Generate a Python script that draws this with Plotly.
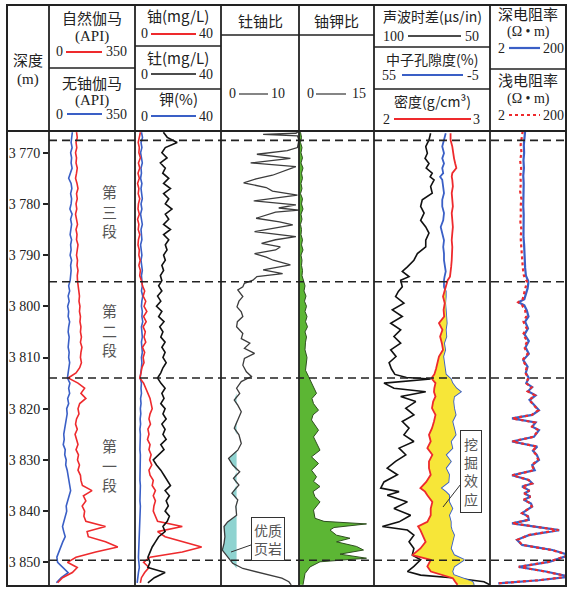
import plotly.graph_objects as go
import math

W, H = 569, 590
def PX(x): return x / W
def PY(y): return 1 - y / H

# ---------------- data ----------------
depth_1m = list(range(3766, 3855))

gr = [112, 115, 110, 113, 108, 112, 110, 115, 112, 108,
      114, 118, 112, 115, 110, 113, 108, 112, 116, 110,
      114, 112, 118, 115, 112, 116, 114, 118, 115, 116,
      118, 120, 124, 122, 126, 124, 128, 126, 130, 128,
      132, 128, 134, 130, 128, 132, 125, 110, 78, 118,
      145, 130, 150, 125, 118, 122, 112, 108, 115, 106,
      112, 118, 110, 120, 116, 124, 118, 128, 130, 136,
      175, 140, 150, 135, 145, 142, 150, 230, 155, 160,
      230, 280, 190, 110, 75, 115, 95, 55, 35]

kthgr = [95, 92, 90, 94, 88, 92, 90, 94, 86, 80,
         90, 93, 88, 92, 90, 85, 94, 88, 92, 90,
         86, 92, 88, 90, 86, 92, 88, 90, 88, 86,
         80, 84, 78, 82, 76, 80, 78, 84, 80, 78,
         82, 80, 78, 82, 80, 84, 80, 76, 75, 85,
         80, 84, 76, 80, 72, 74, 70, 66, 64, 60,
         62, 58, 66, 64, 70, 68, 74, 78, 80, 85,
         88, 82, 76, 70, 72, 66, 60, 55, 60, 66,
         56, 48, 40, 32, 35, 55, 78, 50, 30]

uran = [2.5, 2.0, 1.5, 2.0, 1.8, 2.5, 1.6, 2.2, 1.4, 2.0,
        1.2, 1.8, 1.5, 2.2, 1.6, 1.4, 2.0, 1.2, 1.8, 1.5,
        2.2, 1.6, 1.4, 2.0, 1.8, 2.4, 1.8, 2.5, 2.2, 3.0,
        3.5, 4.5, 3.8, 5.0, 4.2, 5.5, 4.0, 5.2, 3.8, 4.8,
        4.2, 5.0, 3.5, 4.5, 3.8, 4.2, 3.2, 2.8, 2.2, 4.0,
        5.0, 6.0, 7.0, 7.5, 8.0, 7.0, 6.5, 7.2, 6.0, 6.5,
        5.8, 7.0, 6.5, 7.5, 6.8, 7.8, 6.5, 7.0, 8.5, 8.0,
        9.5, 8.5, 9.5, 8.8, 8.5, 9.5, 10.5, 22, 10.5, 14,
        22, 31, 22, 7, 4, 6.5, 4.5, 3, 2.5]

potas = [3.0, 3.5, 2.8, 3.2, 2.6, 3.0, 3.4, 2.8, 3.0, 2.6,
         3.2, 2.8, 3.0, 3.4, 2.8, 3.2, 2.6, 3.0, 3.4, 2.8,
         3.0, 3.2, 2.6, 3.0, 3.2, 2.8, 3.0, 3.4, 3.0, 3.2,
         3.4, 3.0, 3.6, 3.2, 3.0, 3.4, 3.2, 3.6, 3.0, 3.2,
         3.4, 3.0, 3.2, 3.4, 3.0, 3.2, 3.0, 2.6, 2.4, 3.0,
         2.8, 3.0, 2.6, 2.8, 2.5, 2.7, 2.4, 2.6, 2.3, 2.5,
         2.4, 2.6, 2.3, 2.5, 2.4, 2.6, 2.2, 2.4, 2.3, 2.5,
         2.4, 2.6, 2.3, 2.5, 2.4, 2.3, 2.2, 2.0, 2.2, 2.0,
         1.9, 1.8, 1.8, 1.6, 1.8, 2.0, 1.6, 1.2, 1.0]

thor = [13.2, 15.0, 19.6, 14.1, 12.5, 14.9, 11.8, 14.1, 12.9, 15.7,
        13.3, 16.5, 13.3, 15.7, 14.1, 17.2, 14.1, 15.7, 13.3, 16.5,
        13.3, 15.7, 14.1, 14.9, 13.3, 14.1, 12.5, 13.3, 11.8, 12.5,
        11.0, 12.5, 10.5, 12.0, 10.0, 12.5, 11.0, 13.5, 11.5, 13.0,
        12.0, 14.0, 12.5, 14.0, 13.0, 14.5, 13.0, 12.0, 10.5, 12.0,
        14.0, 12.5, 13.5, 12.0, 14.0, 13.0, 14.5, 12.5, 14.0, 13.0,
        14.5, 12.0, 13.5, 11.0, 8.5, 10.0, 12.0, 13.5, 15.0, 16.5,
        14.0, 16.0, 14.5, 15.5, 14.0, 16.0, 15.0, 13.0, 14.0, 11.0,
        9.5, 8.0, 7.0, 6.0, 7.0, 6.0, 14.0, 9.0, 6.0]

thu_depth = [3765.8, 3766.2, 3766.4, 3766.7, 3767.5, 3769.0, 3769.6, 3770.3, 3771.1, 3772.0,
             3772.7, 3773.6, 3774.4, 3775.1, 3775.9, 3776.8, 3777.5, 3778.3, 3779.4, 3780.2,
             3780.8, 3781.2, 3781.6, 3782.8, 3783.5, 3784.1, 3785.4, 3786.4, 3787.0, 3787.7,
             3788.4, 3789.0, 3789.7, 3790.4, 3791.0, 3791.9, 3792.9, 3793.6, 3794.2, 3794.9,
             3795.5, 3796.2, 3796.8, 3798.1, 3799.0, 3800.1, 3801.1, 3802.0, 3803.0, 3804.0,
             3805.3, 3806.3, 3807.2, 3808.2, 3809.2, 3810.2, 3811.5, 3812.8, 3813.7, 3814.7,
             3816.0, 3817.0, 3818.3, 3819.3, 3820.6, 3822.2, 3823.8, 3825.1, 3826.8, 3828.1,
             3829.7, 3831.0, 3832.3, 3833.6, 3834.9, 3836.5, 3837.8, 3839.1, 3840.8, 3842.1,
             3843.0, 3845.0, 3846.3, 3847.6, 3848.9, 3850.2, 3851.2, 3852.2, 3853.1, 3853.8,
             3854.4]
thu = [10.0, 9.6, 5.4, 9.8, 10.0, 9.8, 8.5, 4.6, 8.9, 3.8,
       9.6, 8.0, 6.6, 4.5, 2.9, 5.8, 6.6, 9.8, 4.2, 9.6,
       7.4, 10.0, 7.0, 4.5, 7.5, 9.2, 4.3, 9.6, 7.0, 5.2,
       7.6, 7.0, 4.3, 5.8, 6.7, 8.9, 5.4, 7.9, 4.6, 4.1,
       3.0, 2.8, 2.15, 2.8, 2.3, 2.05, 2.6, 2.8, 2.1, 2.0,
       2.8, 2.6, 3.7, 3.0, 4.3, 3.0, 2.8, 3.25, 3.9, 2.6,
       2.0, 2.4, 1.7, 2.15, 2.6, 2.15, 1.7, 2.3, 2.6, 2.15,
       0.97, 1.5, 2.4, 1.6, 2.3, 1.4, 2.15, 1.9, 2.0, 0.85,
       0.39, 0.5, 0.39, 0.17, 0.85, 1.5, 2.8, 5.4, 7.8, 8.7,
       9.0]
thu_cutoff = 2.0

uk_depth = [3766, 3767, 3768, 3769, 3770, 3771, 3772, 3773, 3774, 3775,
            3776, 3777, 3778, 3779, 3780, 3781, 3782, 3783, 3784, 3785,
            3786, 3787, 3788, 3789, 3790, 3791, 3792, 3793, 3794, 3795,
            3796, 3797, 3798, 3799, 3800, 3801, 3802, 3803, 3804, 3805,
            3806, 3807, 3808.5, 3810.0, 3811.1, 3812.5, 3813.7, 3815.0, 3817.0, 3818.0,
            3819.0, 3820.3, 3821.2, 3822.2, 3823.3, 3824.2, 3825.5, 3826.8, 3828.1, 3829.4,
            3830.7, 3832.0, 3833.3, 3834.2, 3835.2, 3836.2, 3837.2, 3838.2, 3839.8, 3841.4,
            3842.0, 3842.5, 3843.2, 3843.7, 3844.7, 3845.3, 3846.0, 3846.9, 3847.6, 3848.4,
            3849.2, 3849.9, 3850.9, 3852.2, 3853.5, 3854.4]
uk = [0.3, 0.5, 0.3, 0.6, 0.4, 0.7, 0.4, 0.8, 0.5, 0.7,
      0.4, 0.6, 0.3, 0.7, 0.5, 0.8, 0.4, 0.6, 0.3, 0.5,
      0.4, 0.7, 0.5, 0.8, 0.4, 0.6, 0.5, 0.7, 0.6, 0.9,
      1.2, 1.0, 1.4, 1.1, 1.5, 1.2, 1.6, 1.3, 1.7, 1.2,
      1.5, 1.3, 1.2, 1.6, 1.5, 1.3, 1.9, 2.5, 3.5, 2.6,
      2.9, 3.9, 2.8, 2.5, 3.2, 3.9, 2.9, 3.6, 4.2, 2.5,
      3.9, 2.5, 3.5, 2.9, 4.2, 2.8, 3.2, 4.2, 2.9, 3.2,
      5.0, 13.5, 7.0, 6.2, 7.5, 10.2, 7.5, 11.5, 12.9, 8.2,
      13.5, 4.2, 2.2, 1.2, 0.9, 0.8]

t5_depth = [3766.2, 3767.5, 3768.8, 3770.1, 3771.1, 3772.1, 3773.0, 3774.0, 3774.7, 3775.3,
            3776.6, 3777.9, 3779.2, 3780.5, 3781.8, 3783.2, 3784.5, 3785.7, 3787.1, 3788.4,
            3789.7, 3791.0, 3792.3, 3793.2, 3794.2, 3794.9, 3796.2, 3797.1, 3798.1, 3799.4,
            3800.7, 3802.0, 3803.3, 3804.6, 3805.9, 3807.2, 3808.5, 3809.8, 3811.0, 3812.2,
            3813.3, 3813.9, 3814.2, 3815.0, 3816.0, 3816.7, 3817.6, 3818.6, 3819.9, 3821.2,
            3822.5, 3823.8, 3825.1, 3826.4, 3827.7, 3829.0, 3830.3, 3831.6, 3832.9, 3834.3,
            3835.5, 3836.2, 3836.9, 3838.2, 3839.5, 3840.8, 3842.1, 3843.0, 3843.7, 3844.7,
            3846.0, 3847.3, 3848.6, 3849.5, 3850.8, 3851.8, 3852.5, 3853.1, 3853.8, 3854.4]
ac = [75.6, 76.3, 77.7, 77.0, 78.0, 76.3, 77.5, 74.9, 75.8, 74.1,
      75.6, 74.9, 79.2, 79.9, 78.4, 79.9, 77.7, 76.3, 77.7, 77.7,
      81.3, 82.8, 85.6, 87.8, 84.9, 88.5, 87.8, 89.5, 90.7, 87.1,
      92.1, 87.8, 92.8, 88.5, 91.4, 88.5, 92.8, 90.5, 93.5, 92.5,
      91.0, 86.0, 75.6, 95.7, 91.4, 77.7, 88.5, 82.0, 86.3, 82.8,
      87.8, 84.9, 87.1, 82.8, 89.2, 86.3, 90.7, 94.3, 89.9, 95.7,
      97.1, 89.2, 94.3, 85.6, 91.4, 84.2, 89.2, 96.4, 85.6, 82.8,
      84.9, 82.8, 83.5, 79.9, 82.8, 85.6, 79.9, 64.0, 52.6, 50.0]
cnl = [17.9, 18.8, 19.7, 18.8, 19.7, 18.8, 19.7, 19.2, 20.8, 19.7,
       19.2, 18.8, 19.7, 19.7, 18.8, 19.2, 20.5, 19.7, 18.8, 19.2,
       18.8, 18.8, 18.2, 17.9, 18.5, 18.8, 18.8, 17.9, 17.9, 18.2,
       17.9, 17.6, 17.4, 17.9, 17.6, 18.8, 18.2, 19.2, 18.8, 18.5,
       17.9, 16.2, 15.3, 14.5, 12.5, 10.2, 13.6, 14.0, 13.6, 12.8,
       14.5, 13.6, 12.8, 15.3, 14.5, 17.9, 15.3, 17.9, 16.2, 16.5,
       20.5, 18.0, 16.2, 16.2, 14.5, 16.2, 15.3, 15.3, 14.8, 13.6,
       14.5, 15.3, 13.6, 8.4, 13.6, 14.5, 13.8, 9.0, 4.1, 3.3]
den = [2.66, 2.66, 2.675, 2.68, 2.69, 2.70, 2.71, 2.675, 2.67, 2.675,
       2.68, 2.67, 2.675, 2.68, 2.67, 2.675, 2.68, 2.675, 2.67, 2.675,
       2.675, 2.67, 2.665, 2.66, 2.655, 2.635, 2.62, 2.61, 2.595, 2.61,
       2.60, 2.605, 2.56, 2.59, 2.57, 2.585, 2.595, 2.56, 2.55, 2.535,
       2.52, 2.50, 2.50, 2.53, 2.52, 2.517, 2.53, 2.51, 2.50, 2.53,
       2.517, 2.50, 2.474, 2.489, 2.46, 2.503, 2.474, 2.474, 2.489, 2.45,
       2.40, 2.44, 2.46, 2.503, 2.489, 2.489, 2.46, 2.38, 2.40, 2.42,
       2.445, 2.40, 2.33, 2.49, 2.46, 2.49, 2.60, 2.68, 2.70, 2.72]

res_depth = [3765.8, 3767.0, 3768.5, 3770.0, 3771.5, 3773.0, 3774.5, 3776.0, 3777.5, 3779.0,
             3780.5, 3782.0, 3783.5, 3785.0, 3786.5, 3788.0, 3789.5, 3791.0, 3792.5, 3794.0,
             3795.2, 3796.5, 3797.8, 3798.6, 3799.2, 3799.8, 3800.8, 3802.0, 3803.0, 3804.3,
             3805.5, 3806.8, 3808.0, 3809.3, 3810.5, 3811.8, 3813.0, 3814.0, 3815.0, 3815.8,
             3816.6, 3817.4, 3818.3, 3819.0, 3820.3, 3821.2, 3821.9, 3822.7, 3823.5, 3824.2,
             3825.5, 3826.4, 3827.4, 3828.2, 3829.0, 3830.0, 3831.0, 3832.0, 3833.0, 3833.9,
             3834.6, 3835.2, 3836.0, 3836.5, 3837.2, 3837.8, 3838.5, 3839.1, 3840.4, 3841.0,
             3841.7, 3842.4, 3843.7, 3844.7, 3845.6, 3846.6, 3847.6, 3848.6, 3849.9, 3850.9,
             3851.8, 3852.8, 3853.5, 3854.1]
res_deep = [16.8, 16.0, 15.5, 15.8, 15.2, 15.6, 15.0, 15.4, 15.2, 15.6,
            15.0, 15.4, 15.2, 15.6, 15.2, 15.8, 16.0, 16.4, 16.8, 17.6,
            20.6, 19.5, 17.2, 16.0, 11.2, 16.0, 18.6, 20.6, 16.8, 20.0,
            16.2, 21.0, 17.2, 21.0, 15.0, 19.5, 17.5, 21.0, 18.0, 25.8,
            20.0, 31.7, 22.0, 27.0, 38.9, 26.0, 7.6, 31.7, 26.0, 38.9,
            28.6, 7.6, 35.0, 27.0, 34.0, 38.9, 25.8, 30.0, 7.6, 21.0,
            26.0, 14.0, 22.0, 16.0, 23.3, 15.5, 24.0, 25.8, 14.0, 20.0,
            21.0, 7.6, 133, 21.0, 10.3, 14.0, 88, 246, 72, 11.4,
            58.6, 246, 38.9, 3.3]
res_shallow = [14.5, 13.6, 12.8, 13.5, 12.4, 13.2, 12.6, 13.0, 12.4, 13.4,
               12.8, 13.0, 12.6, 13.4, 12.8, 13.2, 13.6, 14.0, 14.6, 15.6,
               18.8, 17.0, 15.6, 14.5, 11.0, 14.0, 16.8, 18.0, 15.2, 18.4,
               14.8, 19.2, 16.0, 19.6, 14.2, 18.6, 17.0, 20.5, 17.5, 25.0,
               19.5, 30.5, 21.5, 26.5, 37.5, 25.0, 7.8, 30.5, 25.5, 38.0,
               27.5, 7.8, 34.0, 26.5, 33.0, 37.0, 25.0, 29.0, 7.8, 20.5,
               25.5, 14.0, 21.5, 16.0, 23.0, 15.5, 23.5, 25.0, 14.0, 19.5,
               20.5, 7.8, 128, 20.5, 10.5, 14.0, 85, 240, 70, 11.5,
               57, 240, 38, 3.3]

zone_tops = [3767.6, 3795.2, 3814.0, 3849.6]
depth_ticks = [3770, 3780, 3790, 3800, 3810, 3820, 3830, 3840, 3850]
depth_ticktext = ["3 770", "3 780", "3 790", "3 800", "3 810", "3 820", "3 830", "3 840", "3 850"]

# ---------------- style ----------------
RED = "#ee2a2d"
BLUE = "#3a5fc6"
BLACK = "#111111"
FONT = "Liberation Serif, 'Noto Sans CJK SC', serif"
CJK = "'Noto Sans CJK SC', Liberation Serif, serif"

tracks = {  # pixel extents
    "t1": (49, 135), "t2": (135, 221), "t3": (221, 299),
    "t4": (299, 374), "t5": (374, 490), "t6": (490, 566),
}
plot_top, plot_bot = 131, 585

fig = go.Figure()

def line(x, y, xa, color, width=1.6, dash=None):
    fig.add_trace(go.Scatter(x=x, y=y, xaxis=xa, yaxis="y", mode="lines",
                             line=dict(color=color, width=width, dash=dash),
                             hoverinfo="skip", showlegend=False))

# track 1
line(kthgr, depth_1m, "x", BLUE)
line(gr, depth_1m, "x", RED)
# track 2
line(potas, depth_1m, "x2", BLUE)
line(uran, depth_1m, "x2", RED)
line(thor, depth_1m, "x2", BLACK)
# track 3 : Th/U with cyan fill below cutoff
fig.add_trace(go.Scatter(x=[thu_cutoff] * len(thu), y=thu_depth, xaxis="x3", yaxis="y",
                         mode="lines", line=dict(width=0), hoverinfo="skip", showlegend=False))
fig.add_trace(go.Scatter(x=[min(v, thu_cutoff) for v in thu], y=thu_depth, xaxis="x3", yaxis="y",
                         mode="lines", line=dict(width=0), fill="tonextx",
                         fillcolor="#8fd3d0", hoverinfo="skip", showlegend=False))
line(thu, thu_depth, "x3", "#3c3c3c", width=1.3)
# track 4 : U/K green fill
fig.add_trace(go.Scatter(x=uk, y=uk_depth, xaxis="x4", yaxis="y", mode="lines",
                         line=dict(color="#2f4f20", width=1), fill="tozerox",
                         fillcolor="#5cb634", hoverinfo="skip", showlegend=False))
# track 5 : crossover fill on density axis
den_eq = [2 + (55 - c) / 60 for c in cnl]
fig.add_trace(go.Scatter(x=den, y=t5_depth, xaxis="x7", yaxis="y", mode="lines",
                         line=dict(width=0), hoverinfo="skip", showlegend=False))
fig.add_trace(go.Scatter(x=[max(a, b) for a, b in zip(den, den_eq)], y=t5_depth,
                         xaxis="x7", yaxis="y", mode="lines", line=dict(width=0),
                         fill="tonextx", fillcolor="#f7e638", hoverinfo="skip", showlegend=False))
line(ac, t5_depth, "x5", BLACK)
line(cnl, t5_depth, "x6", BLUE, width=1.8)
line(den, t5_depth, "x7", RED, width=1.8)
# track 6 : resistivity
line(res_deep, res_depth, "x8", BLUE, width=2.2)
line(res_shallow, res_depth, "x8", RED, width=2.2, dash="dot")

# ---------------- axes ----------------
def xa(dom, rng, typ="linear"):
    return dict(domain=[PX(dom[0]), PX(dom[1])], range=rng, type=typ, anchor="y",
                showticklabels=False, showgrid=False, zeroline=False, showline=False,
                ticks="", fixedrange=True, automargin=False)

fig.update_layout(
    xaxis=xa(tracks["t1"], [0, 350]),
    xaxis2=xa(tracks["t2"], [0, 40]),
    xaxis3=xa(tracks["t3"], [0, 10]),
    xaxis4=xa(tracks["t4"], [0, 15]),
    xaxis5=xa(tracks["t5"], [100, 50]),
    xaxis6=xa(tracks["t5"], [55, -5]),
    xaxis7=xa(tracks["t5"], [2, 3]),
    xaxis8=xa(tracks["t6"], [math.log10(2), math.log10(200)], "log"),
    yaxis=dict(domain=[PY(plot_bot), PY(plot_top)], range=[3854.43, 3765.76],
               anchor="x", showgrid=False, zeroline=False, showline=False,
               ticks="outside", ticklen=5, tickwidth=1.5, tickcolor="#222",
               tickvals=depth_ticks, ticktext=depth_ticktext,
               tickfont=dict(family=FONT, size=14, color="#222"),
               fixedrange=True, automargin=False),
)

# ---------------- frame & header ----------------
shapes = []
def pline(x0, y0, x1, y1, w=1.6, color="#222", dash=None):
    shapes.append(dict(type="line", xref="paper", yref="paper",
                       x0=PX(x0), y0=PY(y0), x1=PX(x1), y1=PY(y1),
                       line=dict(color=color, width=w, dash=dash)))

for d in zone_tops:
    shapes.append(dict(type="line", xref="paper", yref="y", x0=PX(49), x1=PX(566),
                       y0=d, y1=d, line=dict(color="#222", width=1.6, dash="8px,5px")))

shapes.append(dict(type="rect", xref="paper", yref="paper", x0=PX(7), y0=PY(586),
                   x1=PX(566), y1=PY(5), line=dict(color="#222", width=2)))
for xv in [49, 135, 221, 299, 374, 490]:
    pline(xv, 5, xv, 586, w=1.8)
pline(7, 131, 566, 131, w=2)
pline(49, 68, 135, 68)
pline(135, 46, 221, 46)
pline(135, 89, 221, 89)
pline(221, 35, 374, 35)
pline(374, 47, 490, 47)
pline(374, 89, 490, 89)
pline(490, 69, 566, 69)

# legend sample lines
pline(66, 52, 102, 52, w=2, color=RED)
pline(67, 114, 102, 114, w=2, color=BLUE)
pline(151, 34, 196, 34, w=2, color=RED)
pline(151, 74, 196, 74, w=1.6, color=BLACK)
pline(151, 116, 196, 116, w=2, color=BLUE)
pline(239, 94, 268, 94, w=1.2, color="#333")
pline(316, 94, 346, 94, w=1.2, color="#333")
pline(408, 36, 461, 36, w=1.6, color=BLACK)
pline(402, 75, 463, 75, w=2, color=BLUE)
pline(394, 119, 471, 119, w=2, color=RED)
pline(509, 48, 540, 48, w=2.2, color=BLUE)
pline(509, 115, 540, 115, w=2.2, color=RED, dash="dot")

annotations = []
def txt(x, y, s, size=15, color="#222", fam=CJK):
    annotations.append(dict(x=PX(x), y=PY(y), xref="paper", yref="paper", text=s,
                            showarrow=False, xanchor="center", yanchor="middle",
                            font=dict(family=fam, size=size, color=color)))

txt(28, 60, "深度")
txt(28, 80, "(m)", fam=FONT)
txt(92, 18, "自然伽马"); txt(92, 36, "(API)", fam=FONT)
txt(59, 52, "0", 14, fam=FONT); txt(116, 52, "350", 14, fam=FONT)
txt(92, 82, "无铀伽马"); txt(92, 100, "(API)", fam=FONT)
txt(59, 114, "0", 14, fam=FONT); txt(116, 114, "350", 14, fam=FONT)
txt(178, 15, "铀(mg/L)")
txt(144, 34, "0", 14, fam=FONT); txt(206, 34, "40", 14, fam=FONT)
txt(178, 57, "钍(mg/L)")
txt(144, 74, "0", 14, fam=FONT); txt(206, 74, "40", 14, fam=FONT)
txt(178, 98, "钾(%)")
txt(144, 116, "0", 14, fam=FONT); txt(206, 116, "40", 14, fam=FONT)
txt(260, 20, "钍铀比")
txt(232, 94, "0", 14, fam=FONT); txt(278, 94, "10", 14, fam=FONT)
txt(336, 20, "铀钾比")
txt(310, 94, "0", 14, fam=FONT); txt(359, 94, "15", 14, fam=FONT)
txt(432, 16, "声波时差(μs/in)", 14)
txt(393, 36, "100", 14, fam=FONT); txt(472, 36, "50", 14, fam=FONT)
txt(432, 59, "中子孔隙度(%)", 14)
txt(389, 75, "55", 14, fam=FONT); txt(473, 75, "-5", 14, fam=FONT)
txt(432, 101, "密度(g/cm³)", 14)
txt(386, 119, "2", 14, fam=FONT); txt(477, 119, "3", 14, fam=FONT)
txt(528, 14, "深电阻率"); txt(528, 32, "(Ω • m)", 14, fam=FONT)
txt(501, 48, "2", 14, fam=FONT); txt(553, 48, "200", 14, fam=FONT)
txt(528, 80, "浅电阻率"); txt(528, 99, "(Ω • m)", 14, fam=FONT)
txt(501, 115, "2", 14, fam=FONT); txt(553, 115, "200", 14, fam=FONT)

# zone labels
txt(109, 211, "第<br>三<br>段", 15, "#555")
txt(109, 330, "第<br>二<br>段", 15, "#555")
txt(109, 465, "第<br>一<br>段", 15, "#555")

# callouts
annotations.append(dict(x=PX(231), y=PY(552), xref="paper", yref="paper",
                        text="优质<br>页岩", showarrow=True, arrowhead=0, arrowwidth=1,
                        arrowcolor="#333", ax=37, ay=-13, bgcolor="white",
                        bordercolor="#333", borderwidth=1, borderpad=2,
                        font=dict(family=CJK, size=14, color="#555")))
annotations.append(dict(x=PX(443), y=PY(507), xref="paper", yref="paper",
                        text="挖<br>掘<br>效<br>应", showarrow=True, arrowhead=0, arrowwidth=1,
                        arrowcolor="#333", ax=28, ay=-36, bgcolor="white",
                        bordercolor="#333", borderwidth=1, borderpad=3,
                        font=dict(family=CJK, size=14, color="#555")))

fig.update_layout(width=W, height=H, margin=dict(l=0, r=0, t=0, b=0),
                  template="none", paper_bgcolor="white", plot_bgcolor="rgba(0,0,0,0)",
                  showlegend=False, shapes=shapes, annotations=annotations,
                  font=dict(family=FONT, color="#222"))

fig.write_html("out.html")
